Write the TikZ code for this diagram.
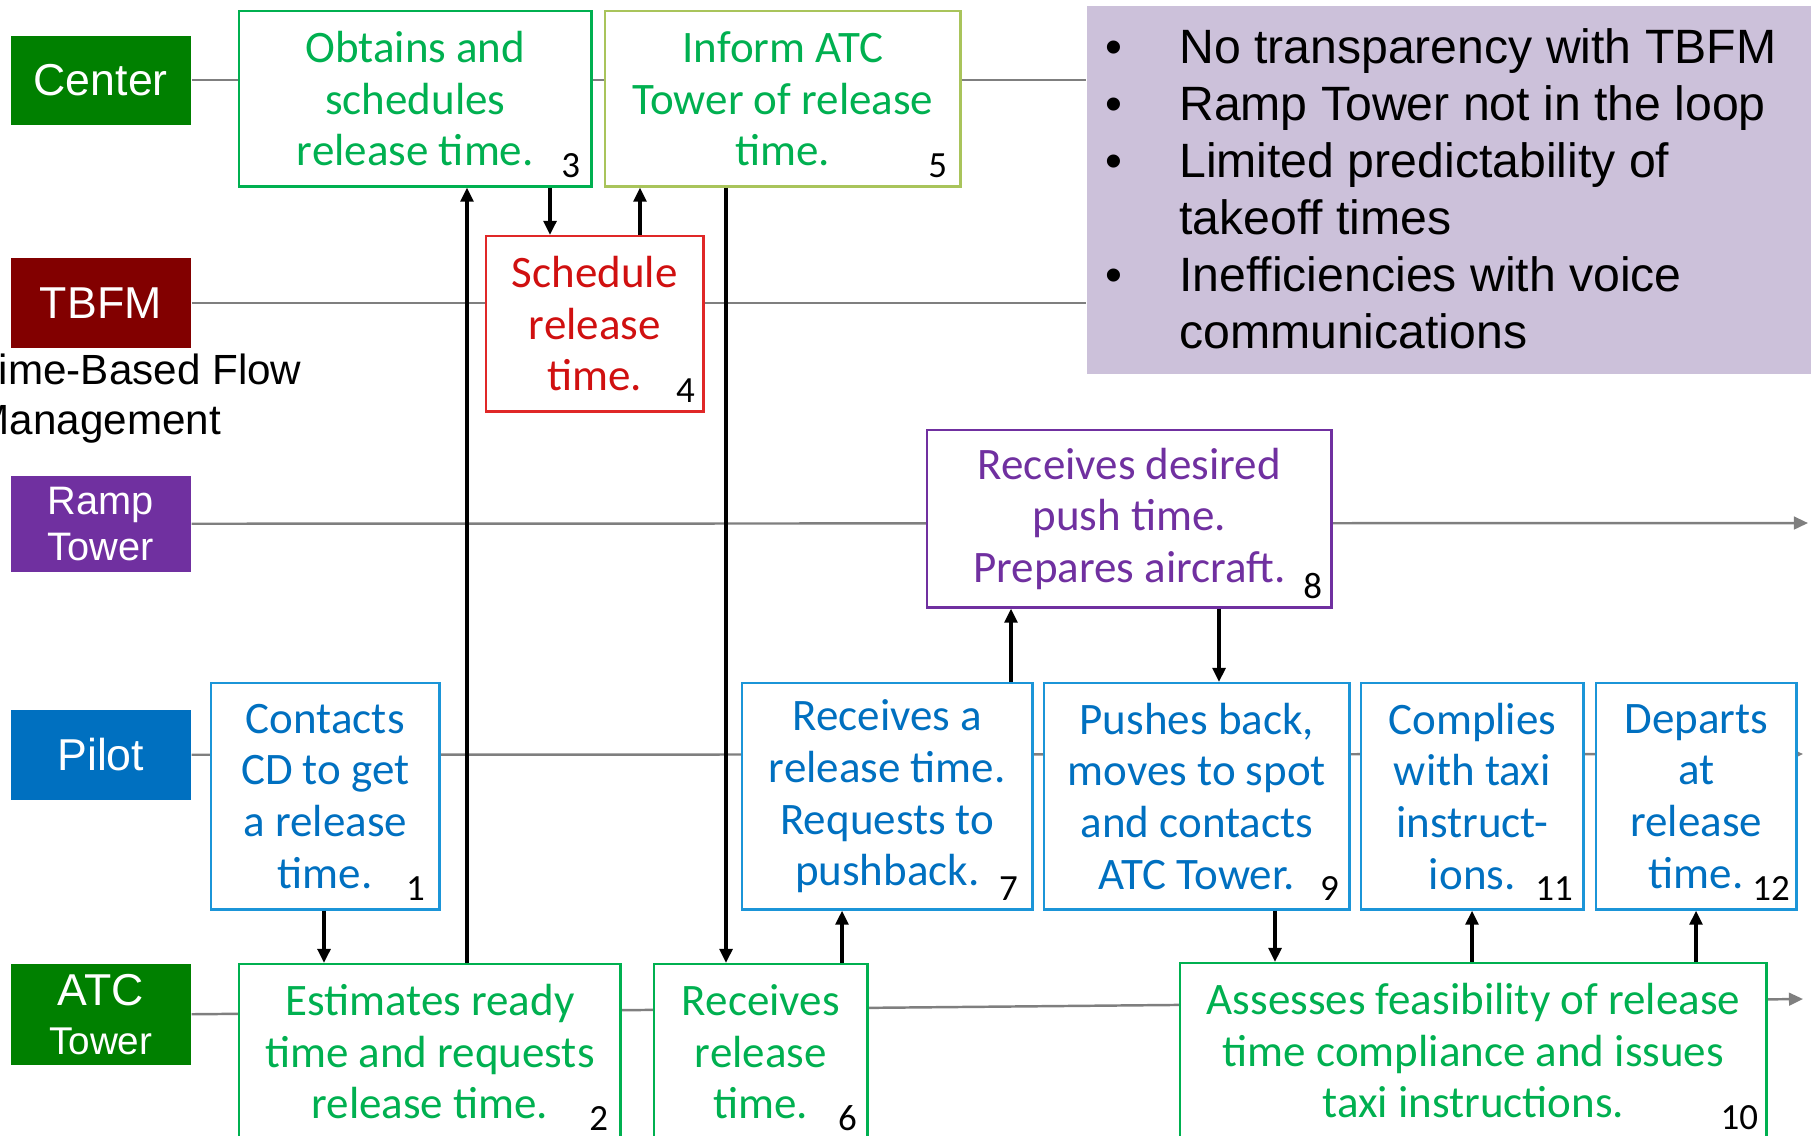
\documentclass[tikz,border=0pt]{standalone}
\usepackage{fontspec}
\setmainfont{Liberation Sans}
\newfontfamily\calfont{Carlito}
\usepackage{tikz}
\usetikzlibrary{positioning,arrows.meta,backgrounds}

\definecolor{ctrgreen}{HTML}{008000}
\definecolor{tbfmred}{HTML}{820000}
\definecolor{rampviolet}{HTML}{7030A0}
\definecolor{pilotblue}{HTML}{0070C0}
\definecolor{atcgreen}{HTML}{008000}
\definecolor{boxgreen}{HTML}{00B050}
\definecolor{boxblue}{HTML}{1B95D8}
\definecolor{boxred}{HTML}{D01010}
\definecolor{boxredline}{HTML}{E02828}
\definecolor{boxolive}{HTML}{A9C45B}
\definecolor{notelilac}{HTML}{CCC1DA}
\definecolor{lanegray}{HTML}{7F7F7F}

\newcommand\issuebullet{\makebox[0.735cm][l]{\textbullet}}
\newcommand\issueindent{\hspace*{0.735cm}}

\begin{document}
\begin{tikzpicture}[x = 0.01cm, y = -0.01cm,
  lanebox/.style = {anchor = north west, minimum width = 1.8cm, inner sep = 0pt, align = center, text = white, font = \fontsize{12.7}{14}\selectfont},
  stepbox/.style = {anchor = north west, draw, fill = white, line width = 0.7pt, inner sep = 0pt, align = center, font = \calfont\fontsize{12.8}{14.7}\selectfont},
  greenstep/.style = {stepbox, draw = boxgreen, text = boxgreen, minimum height = 1.75cm},
  redstep/.style = {stepbox, draw = boxredline, text = boxred, minimum height = 1.75cm},
  violetstep/.style = {stepbox, draw = rampviolet, text = rampviolet, minimum height = 1.77cm},
  bluestep/.style = {stepbox, draw = boxblue, text = pilotblue, minimum height = 2.26cm},
  num/.style = {anchor = south east, inner sep = 0pt, font = \calfont\fontsize{10.5}{12}\selectfont},
  lanewire/.style = {draw = lanegray, line width = 0.7pt},
  lanetip/.style = {-{Triangle[length = 4pt, width = 3.6pt]}},
  flow/.style = {-{Triangle[length = 4pt, width = 3.6pt]}, line width = 1pt}]
\useasboundingbox (0,0) rectangle (1816,1135);

% lane headers
\node[lanebox, fill = ctrgreen, minimum height = 0.89cm] (cntr) at (10,35) {Center};
\node[lanebox, fill = tbfmred, minimum height = 0.90cm] (tbfm) at (10,257) {TBFM};
\node[anchor = north west, align = left, inner sep = 0pt, font = \fontsize{12}{14.2}\selectfont] (tbfmname) at (-26,353) {Time-Based Flow\\Management};
\node[lanebox, fill = rampviolet, minimum height = 0.96cm, font = \fontsize{11.3}{13}\selectfont] (ramp) at (10,475) {Ramp\\Tower};
\node[lanebox, fill = pilotblue, minimum height = 0.90cm] (pilot) at (10,709) {Pilot};
\node[lanebox, fill = atcgreen, minimum height = 1.01cm] (atc) at (10,963) {ATC\\{\fontsize{11}{13}\selectfont Tower}};

% steps
\node[bluestep, minimum width = 2.28cm] (1) at (210,682) {Contacts\\CD to get\\a release\\time.};
\node[greenstep, minimum width = 3.81cm] (2) at (238,963) {Estimates ready\\time and requests\\release time.};
\node[greenstep, minimum width = 3.52cm] (3) at (238,10) {Obtains and\\schedules\\release time.};
\node[redstep, minimum width = 2.17cm] (4) at (485,235) {Schedule\\release\\time.};
\node[greenstep, draw = boxolive, minimum width = 3.55cm] (5) at (604,10) {Inform ATC\\Tower of release\\time.};
\node[greenstep, minimum width = 2.13cm] (6) at (653,963) {Receives\\release\\time.};
\node[bluestep, minimum width = 2.90cm] (7) at (741,682) {Receives a\\release time.\\Requests to\\pushback.};
\node[violetstep, minimum width = 4.04cm] (8) at (926,429) {Receives desired\\push time.\\Prepares aircraft.};
\node[bluestep, minimum width = 3.05cm] (9) at (1043,682) {Pushes back,\\moves to spot\\and contacts\\ATC Tower.};
\node[greenstep, minimum width = 5.86cm] (10) at (1179,962) {Assesses feasibility of release\\time compliance and issues\\taxi instructions.};
\node[bluestep, minimum width = 2.22cm] (11) at (1360,682) {Complies\\with taxi\\instruct-\\ions.};
\node[bluestep, minimum width = 2.0cm] (12) at (1595,682) {Departs\\at\\release\\time.};

\foreach \n/\dx in {1/15, 2/13, 3/12, 4/9, 5/14, 6/11, 7/15, 8/10, 9/11, 10/9, 11/11, 12/7}
  \node[num] (n\n) at ([shift = {(-\dx,-9)}]\n.south east) {\n};

% issues
\node[anchor = north west, fill = notelilac, minimum width = 7.24cm, minimum height = 3.68cm, inner sep = 0pt] (note) at (1086,5) {};
\node[anchor = north west, align = left, inner sep = 0pt, font = \fontsize{13.7}{16.2}\selectfont] (issues) at (1105,28) {\issuebullet No transparency with TBFM\\
  \issuebullet Ramp Tower not in the loop\\
  \issuebullet Limited predictability of\\
  \issueindent takeoff times\\
  \issuebullet Inefficiencies with voice\\
  \issueindent communications};

% lane lines
\coordinate (rampend) at (1808,523);
\coordinate (pilotend) at (1803,754);
\coordinate (atcend) at (1803,999);
\begin{scope}[on background layer]
\draw[lanewire] (cntr.east) -- (cntr.east -| note.west);
\draw[lanewire] (tbfm.east) -- (tbfm.east -| note.west);
\draw[lanewire, lanetip] (ramp.east) -- (rampend);
\draw[lanewire, lanetip] (pilot.east) -- (pilotend);
\draw[lanewire, lanetip] (atc.east) -- (atcend);
\end{scope}

% hand-offs between steps
\foreach \x/\from/\to in {324/1.south/2.north, 467/2.north/3.south, 550/3.south/4.north, 640/4.north/5.south, 726/5.south/6.north, 842/6.north/7.south, 1011/7.north/8.south, 1219/8.south/9.north, 1275/9.south/10.north, 1472/10.north/11.south, 1696/10.north/12.south}
  \draw[flow] (\x,0 |- \from) -- (\x,0 |- \to);
\end{tikzpicture}
\end{document}
